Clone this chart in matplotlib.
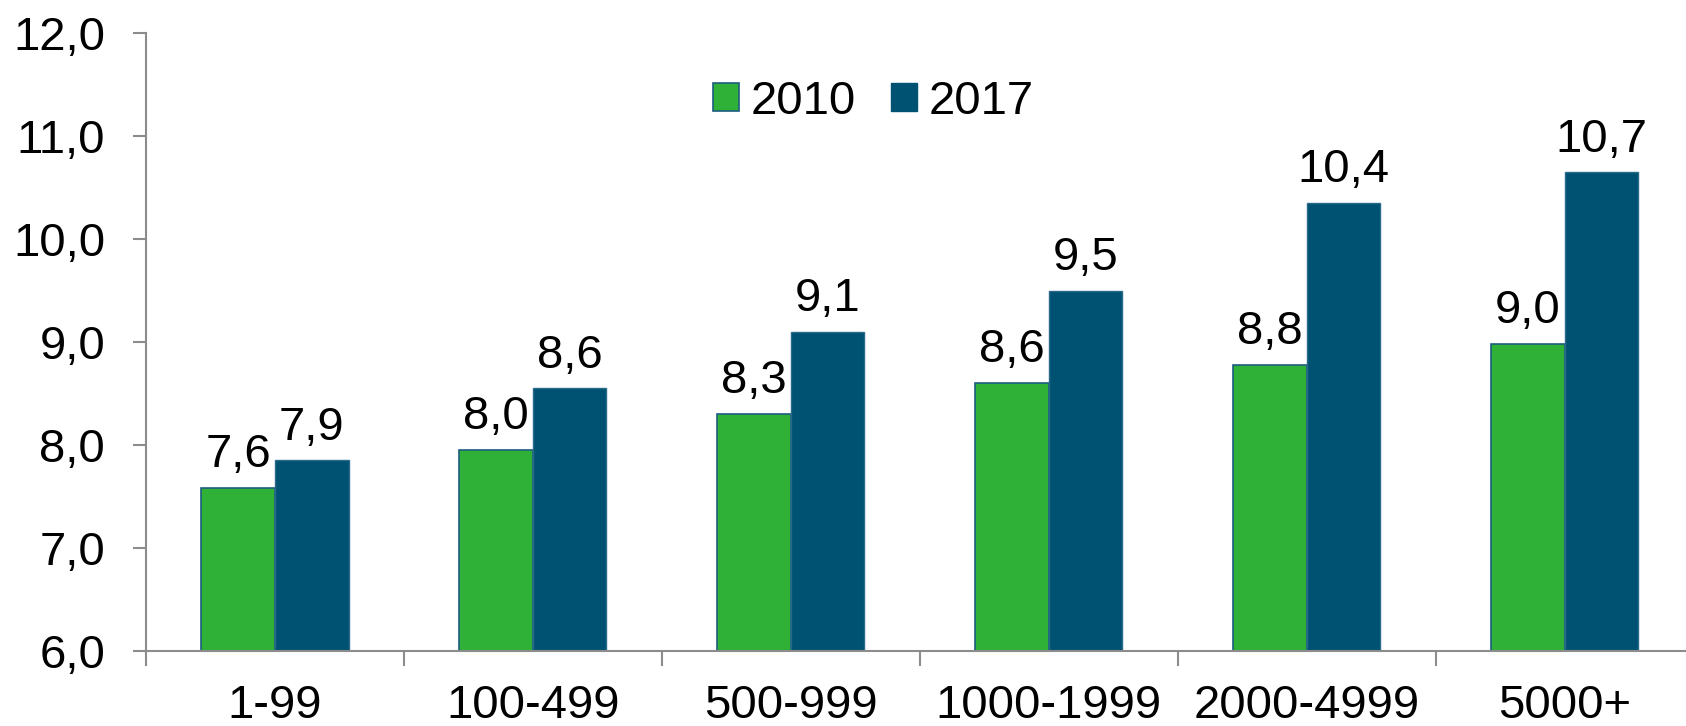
import numpy as np
import matplotlib
matplotlib.use('Agg')
import matplotlib.pyplot as plt
from matplotlib.patches import Patch

# data
categories = ['1-99', '100-499', '500-999', '1000-1999', '2000-4999', '5000+']
years = ['2010', '2017']
v2010 = [7.58, 7.95, 8.30, 8.60, 8.78, 8.98]
v2017 = [7.85, 8.55, 9.10, 9.50, 10.35, 10.65]
lab2010 = ['7,6', '8,0', '8,3', '8,6', '8,8', '9,0']
lab2017 = ['7,9', '8,6', '9,1', '9,5', '10,4', '10,7']
yticks = [6, 7, 8, 9, 10, 11, 12]

green = '#2EB136'
blue = '#005272'
edge = '#1D5E80'
grey = '#8C8C8C'
fs = 34

plt.rcParams['font.family'] = ['Liberation Sans', 'DejaVu Sans']

fig = plt.figure(figsize=(16.86, 7.26), dpi=100)
# axis runs a little past the right edge, as in the original
ax = fig.add_axes([0.0866, 0.1037, 0.918, 0.8502])

x = np.arange(len(categories)) + 0.5
w = 0.285
ax.bar(x - w / 2, np.array(v2010) - 6, w, bottom=6, color=green,
       edgecolor=edge, linewidth=1.2)
ax.bar(x + w / 2, np.array(v2017) - 6, w, bottom=6, color=blue,
       edgecolor='#2B6A8A', linewidth=1.0)

for xs, vals, labs in [(x - w / 2, v2010, lab2010), (x + w / 2, v2017, lab2017)]:
    for xi, v, t in zip(xs, vals, labs):
        ax.annotate(t, (xi, v), xytext=(0, 15), textcoords='offset points',
                    ha='center', va='baseline', fontsize=fs)

ax.set_xlim(0, len(categories))
ax.set_ylim(6, 12)
ax.set_yticks(yticks)
ax.set_yticklabels([f'{t:.1f}'.replace('.', ',') for t in yticks])
ax.set_xticks(np.arange(len(categories) + 1))
ax.set_xticklabels([])
ax.set_xticks(x, minor=True)
ax.set_xticklabels(categories, minor=True)

ax.tick_params(axis='y', direction='out', length=9.5, width=1.5, color=grey,
               labelsize=fs, pad=20)
ax.tick_params(axis='x', which='major', direction='out', length=11, width=1.5,
               color=grey)
ax.tick_params(axis='x', which='minor', length=0, labelsize=fs, pad=24)

for s in ['top', 'right']:
    ax.spines[s].set_visible(False)
for s in ['left', 'bottom']:
    ax.spines[s].set_color(grey)
    ax.spines[s].set_linewidth(1.5)

handles = [Patch(facecolor=green, edgecolor=edge, linewidth=1.2),
           Patch(facecolor=blue, edgecolor=blue)]
fig.legend(handles, years, loc='center', bbox_to_anchor=(0.518, 0.86),
           ncol=2, frameon=False, fontsize=fs, handlelength=0.55,
           handleheight=0.55, handletextpad=0.25, columnspacing=0.73,
           borderpad=0, borderaxespad=0)

fig.savefig('out.png', dpi=100)
